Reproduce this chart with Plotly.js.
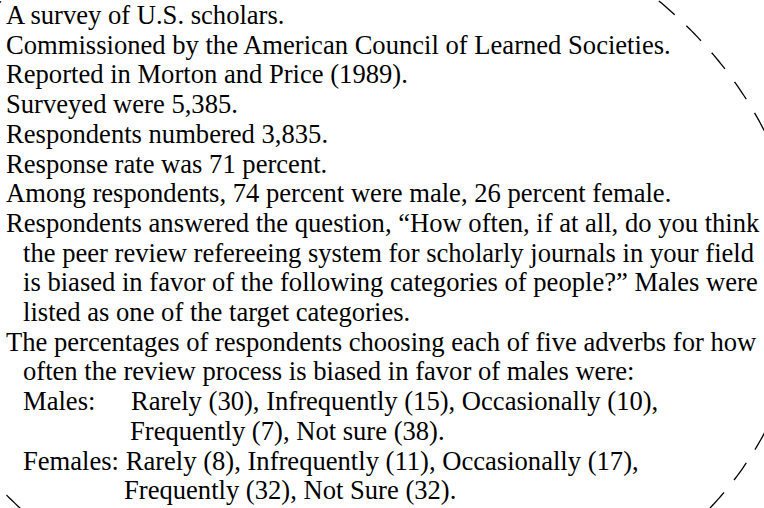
<!DOCTYPE html>
<html>
<head>
<meta charset="utf-8">
<script src="https://cdn.plot.ly/plotly-3.0.1.min.js"></script>
<style>html,body{margin:0;padding:0;background:#fff;}#chart{width:764px;height:508px;}</style>
</head>
<body>
<div id="chart"></div>
<script>
// ---- data ----
var surveyYear = [1989];
var surveyCounts = [5385, 3835];          // surveyed, respondents
var responseRate = [71];
var genderShares = [74, 26];              // male, female
var adverbsMale = ['Rarely', 'Infrequently', 'Occasionally', 'Frequently', 'Not sure'];
var adverbsFemale = ['Rarely', 'Infrequently', 'Occasionally', 'Frequently', 'Not Sure'];
var malesPct = [30, 15, 10, 7, 38];
var femalesPct = [8, 11, 17, 32, 32];

function fmt(n){ return n.toLocaleString('en-US'); }
function items(labels, vals, from, to){
  var out = [];
  for (var i = from; i < to; i++) out.push(labels[i] + ' (' + vals[i] + ')');
  return out.join(', ');
}

var lines = [
  ['A survey of U.S. scholars.', 0],
  ['Commissioned by the American Council of Learned Societies.', 0],
  ['Reported in Morton and Price (' + surveyYear[0] + ').', 0],
  ['Surveyed were ' + fmt(surveyCounts[0]) + '.', 0],
  ['Respondents numbered ' + fmt(surveyCounts[1]) + '.', 0],
  ['Response rate was ' + responseRate[0] + ' percent.', 0],
  ['Among respondents, ' + genderShares[0] + ' percent were male, ' + genderShares[1] + ' percent female.', 0],
  ['Respondents answered the question, \u201cHow often, if at all, do you think', 0],
  ['the peer review refereeing system for scholarly journals in your field', 1],
  ['is biased in favor of the following categories of people?\u201d Males were', 1],
  ['listed as one of the target categories.', 1],
  ['The percentages of respondents choosing each of five adverbs for how', 0],
  ['often the review process is biased in favor of males were:', 1]
];

var FONT = {family: 'Liberation Serif, Times New Roman, serif', size: 26.6, color: '#000'};
var xMain = 5, xIndent = 22, y0 = 15, dy = 29.7;
var ann = [];
function addText(txt, x, row){
  ann.push({text: txt, x: x, y: y0 + row * dy, xref: 'x', yref: 'y',
    xanchor: 'left', yanchor: 'middle', showarrow: false, borderpad: 0, font: FONT});
}
lines.forEach(function(l, i){ addText(l[0], l[1] ? xIndent : xMain, i); });
addText('Males:', xIndent, 13);
addText(items(adverbsMale, malesPct, 0, 3) + ',', 130, 13);
addText(items(adverbsMale, malesPct, 3, 5) + '.', 129, 14);
addText('Females: ' + items(adverbsFemale, femalesPct, 0, 3) + ',', xIndent, 15);
addText(items(adverbsFemale, femalesPct, 3, 5) + '.', 123, 16);

// ---- decorative dashed oval: conic fitted through guide points seen in the picture ----
var guide = [[0,0],[-4,8],[641,0],[664,6],[700,25],[724,52],[742,86],[755,120],[761,155],
             [755,445],[735,483],[716,505],[14,502]];
var dashStart = [657, 3];
function ovalPath(pts, start){
  var s = 500;
  var N = [[0,0,0,0,0],[0,0,0,0,0],[0,0,0,0,0],[0,0,0,0,0],[0,0,0,0,0]], r = [0,0,0,0,0];
  pts.forEach(function(p){
    var x = p[0]/s, y = p[1]/s, row = [x*x, x*y, x, y, 1], rhs = -y*y;
    for (var i=0;i<5;i++){ r[i]+=row[i]*rhs; for (var j=0;j<5;j++) N[i][j]+=row[i]*row[j]; }
  });
  for (var c=0;c<5;c++){
    var piv=c; for (var k=c+1;k<5;k++) if (Math.abs(N[k][c])>Math.abs(N[piv][c])) piv=k;
    var t=N[c]; N[c]=N[piv]; N[piv]=t; var tr=r[c]; r[c]=r[piv]; r[piv]=tr;
    for (var k=c+1;k<5;k++){ var f=N[k][c]/N[c][c]; for (var j=c;j<5;j++) N[k][j]-=f*N[c][j]; r[k]-=f*r[c]; }
  }
  var sol=[0,0,0,0,0];
  for (var c=4;c>=0;c--){ var v=r[c]; for (var j=c+1;j<5;j++) v-=N[c][j]*sol[j]; sol[c]=v/N[c][c]; }
  var A=sol[0], B=sol[1], C=1, D=sol[2], E=sol[3], F=sol[4];
  var det = 4*A*C - B*B;
  var xc = (B*E - 2*C*D)/det, yc = (B*D - 2*A*E)/det;
  var Fp = F + (D*xc + E*yc)/2;
  var tr2 = (A + C)/2, dd = Math.sqrt(((A - C)/2)*((A - C)/2) + B*B/4);
  var l1 = tr2 + dd, l2 = tr2 - dd;
  var th = 0.5*Math.atan2(B, A - C);
  var ax1 = Math.sqrt(-Fp/l1), ax2 = Math.sqrt(-Fp/l2);
  var u = [Math.cos(th), Math.sin(th)], w = [-Math.sin(th), Math.cos(th)];
  function P(t){ var a = ax1*Math.cos(t), b = ax2*Math.sin(t);
    return [(xc + a*u[0] + b*w[0])*s, (yc + a*u[1] + b*w[1])*s]; }
  var best = 0, bd = 1e18;
  for (var i=0;i<3600;i++){ var t=i*Math.PI/1800, q=P(t), d=(q[0]-start[0])*(q[0]-start[0])+(q[1]-start[1])*(q[1]-start[1]); if (d<bd){bd=d;best=t;} }
  var qa = P(best + 0.01), sign = (qa[0] + qa[1] > start[0] + start[1]) ? 1 : -1;
  var path = '';
  for (var i=0;i<=720;i++){
    var q = P(best + sign*i*Math.PI/360);
    path += (i===0 ? 'M' : 'L') + q[0].toFixed(2) + ',' + q[1].toFixed(2);
  }
  return path;
}

var layout = {
  width: 764, height: 508,
  margin: {l: 0, r: 0, t: 0, b: 0, pad: 0},
  paper_bgcolor: '#fff', plot_bgcolor: '#fff',
  showlegend: false,
  xaxis: {range: [0, 764], visible: false, fixedrange: true},
  yaxis: {range: [508, 0], visible: false, fixedrange: true},
  shapes: [{type: 'path', xref: 'x', yref: 'y', path: ovalPath(guide, dashStart),
    line: {color: '#000', width: 1.3, dash: '21px,16px'}, layer: 'below'}],
  annotations: ann
};
Plotly.newPlot('chart', [{x: [], y: [], type: 'scatter', mode: 'markers', hoverinfo: 'skip'}], layout,
  {staticPlot: true, displayModeBar: false});
</script>
</body>
</html>
